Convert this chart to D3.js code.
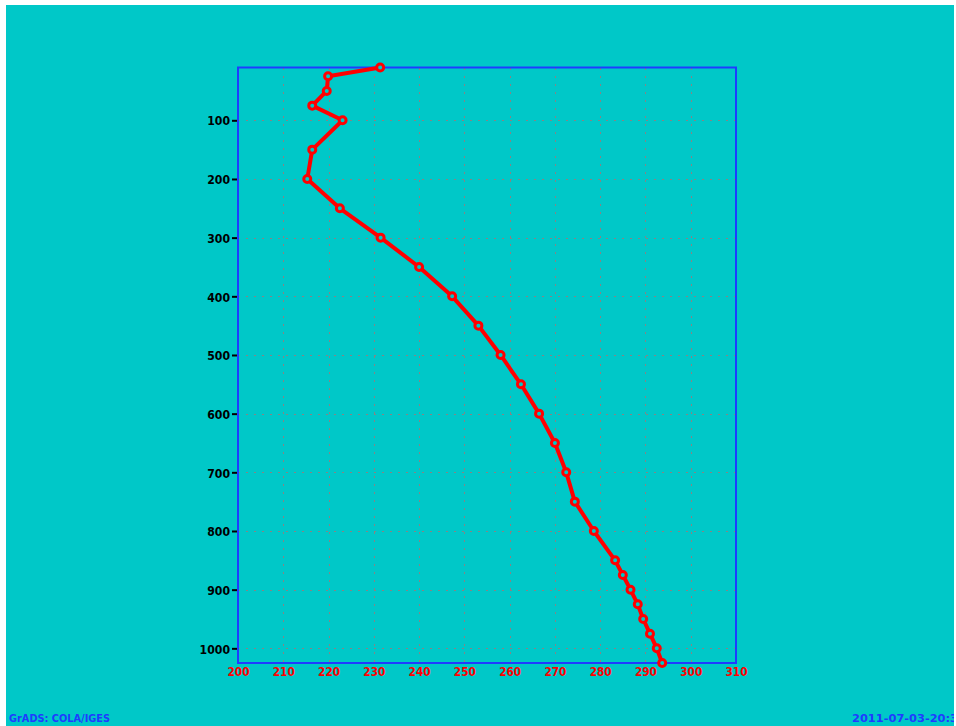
<!DOCTYPE html>
<html>
<head>
<meta charset="utf-8">
<script src="https://cdn.jsdelivr.net/npm/d3@7"></script>
<style>
  html, body { margin: 0; padding: 0; background: #ffffff; }
  svg { display: block; }
</style>
</head>
<body>
<svg id="chart" width="956" height="726"></svg>
<script>
// ---- data ----
const levels = [10, 25, 50, 75, 100, 150, 200, 250, 300, 350, 400, 450, 500, 550, 600,
                650, 700, 750, 800, 850, 875, 900, 925, 950, 975, 1000, 1025];
const temps  = [231.4, 219.9, 219.6, 216.4, 223.1, 216.4, 215.3, 222.5, 231.5, 240.0, 247.3, 253.1, 258.0, 262.5, 266.5,
                270.0, 272.5, 274.4, 278.6, 283.3, 285.0, 286.7, 288.3, 289.5, 291.0, 292.5, 293.7];
const xTicks = [200, 210, 220, 230, 240, 250, 260, 270, 280, 290, 300, 310];
const yTicks = [100, 200, 300, 400, 500, 600, 700, 800, 900, 1000];
const leftLabel = "GrADS: COLA/IGES";
const rightLabel = "2011-07-03-20:3";

// ---- layout ----
const svg = d3.select("#chart");
const W = 956, H = 726;
const plot = { left: 238, right: 736, top: 67.5, bottom: 663 };

const x = d3.scaleLinear().domain([200, 310]).range([plot.left, plot.right]);
const y = d3.scaleLinear().domain([10, 1025]).range([plot.top, plot.bottom]);

const cyan = "rgb(0,200,200)";
const blue = "rgb(30,60,255)";
const red = "rgb(255,0,0)";
const fontFam = "'DejaVu Sans', 'Liberation Sans', sans-serif";

// background
svg.append("defs").append("clipPath").attr("id", "bgclip")
  .append("rect").attr("x", 6).attr("y", 5).attr("width", 948).attr("height", H - 5);
svg.append("rect").attr("x", 6).attr("y", 5).attr("width", 948).attr("height", H - 5).attr("fill", cyan);

// grid
const grid = svg.append("g").attr("stroke", "#858585").attr("stroke-width", 1.3)
  .attr("stroke-dasharray", "2,6").attr("shape-rendering", "crispEdges");
grid.selectAll("line.v").data(xTicks.filter(d => d > 200 && d < 310)).enter().append("line")
  .attr("x1", d => Math.round(x(d)) + 0.5).attr("x2", d => Math.round(x(d)) + 0.5)
  .attr("y1", plot.top).attr("y2", plot.bottom);
grid.selectAll("line.h").data(yTicks).enter().append("line")
  .attr("y1", d => Math.round(y(d)) + 0.5).attr("y2", d => Math.round(y(d)) + 0.5)
  .attr("x1", plot.left).attr("x2", plot.right);

// y axis (left) ticks + labels
const yAxis = d3.axisLeft(y).tickValues(yTicks).tickSize(6).tickPadding(2).tickFormat(d3.format("d"));
const gy = svg.append("g").attr("transform", `translate(${plot.left},0)`).call(yAxis);
gy.select(".domain").remove();
gy.selectAll(".tick line").attr("stroke", "#000").attr("stroke-width", 2);
gy.selectAll(".tick text")
  .attr("fill", "#000").attr("font-family", fontFam).attr("font-weight", "bold")
  .attr("font-size", "13px").attr("dy", "0.36em")
  .attr("textLength", d => String(d).length * 7.6).attr("lengthAdjust", "spacingAndGlyphs");

// x axis (bottom) labels
const xAxis = d3.axisBottom(x).tickValues(xTicks).tickSize(0).tickPadding(4).tickFormat(d3.format("d"));
const gx = svg.append("g").attr("transform", `translate(0,${plot.bottom})`).call(xAxis);
gx.select(".domain").remove();
gx.selectAll(".tick text")
  .attr("fill", red).attr("font-family", fontFam).attr("font-weight", "bold")
  .attr("font-size", "13px")
  .attr("textLength", 22).attr("lengthAdjust", "spacingAndGlyphs");

// frame
svg.append("rect").attr("x", plot.left).attr("y", plot.top)
  .attr("width", plot.right - plot.left).attr("height", plot.bottom - plot.top)
  .attr("fill", "none").attr("stroke", blue).attr("stroke-width", 2);

// profile line
const pts = levels.map((p, i) => ({ p, t: temps[i] }));
const line = d3.line().x(d => x(d.t)).y(d => y(d.p));
svg.append("path").datum(pts).attr("d", line)
  .attr("fill", "none").attr("stroke", red).attr("stroke-width", 4)
  .attr("stroke-linejoin", "round").attr("stroke-linecap", "round");
svg.append("g").selectAll("circle").data(pts).enter().append("circle")
  .attr("cx", d => x(d.t)).attr("cy", d => y(d.p)).attr("r", 3.5)
  .attr("fill", cyan).attr("stroke", red).attr("stroke-width", 3);

// footer labels
const foot = svg.append("g").attr("clip-path", "url(#bgclip)");
foot.append("text").attr("x", 9).attr("y", 722).text(leftLabel)
  .attr("fill", blue).attr("font-family", fontFam).attr("font-weight", "bold").attr("font-size", "11px")
  .attr("textLength", 101).attr("lengthAdjust", "spacingAndGlyphs");
foot.append("text").attr("x", 852).attr("y", 722).text(rightLabel)
  .attr("fill", blue).attr("font-family", fontFam).attr("font-weight", "bold").attr("font-size", "11px")
  .attr("textLength", 106).attr("lengthAdjust", "spacingAndGlyphs");
</script>
</body>
</html>
